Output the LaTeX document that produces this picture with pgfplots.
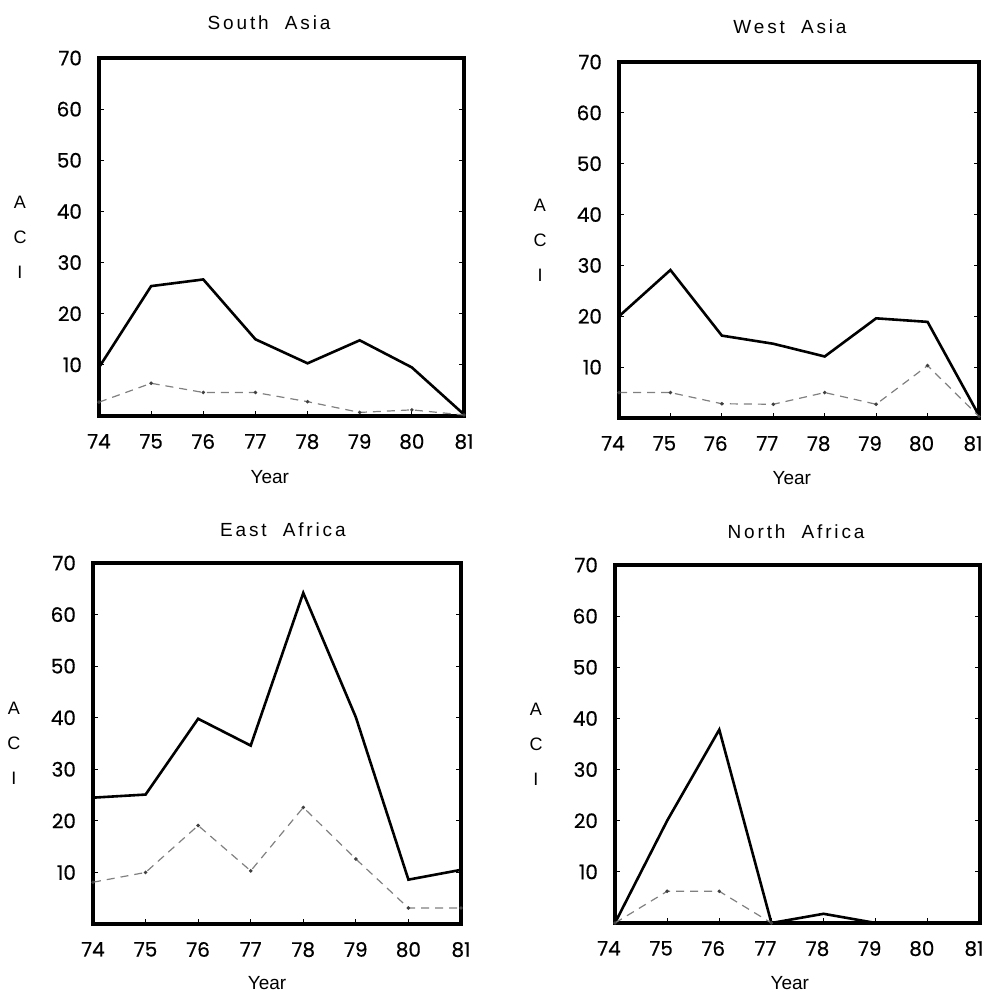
\documentclass[border=0pt]{standalone}
\usepackage{fontspec}
\setmainfont{Liberation Sans}
\newfontfamily\tickfont[FakeBold=0.5]{Poppins}
\newfontfamily\titlefont[LetterSpace=15]{Liberation Sans}
\usepackage{pgfplots}
\pgfplotsset{compat=1.18}

\pgfplotsset{
  panel/.style={
    scale only axis, anchor=south west, clip=false,
    xmin=74, xmax=81, ymin=0, ymax=70,
    xtick={74,75,...,81}, ytick={10,20,...,70},
    xtick pos=lower, ytick pos=both, yticklabel pos=left,
    tick align=inside, major tick length=2.5pt,
    tick style={line width=0.6pt, black},
    axis line style={line width=1.8pt, line join=miter},
    /pgf/number format/assume math mode=true,
    ticklabel style={font=\tickfont\fontsize{10}{11}\selectfont},
    xticklabel style={yshift=-5.5pt},
    yticklabel style={xshift=-5pt},
    xlabel={Year},
    xlabel style={anchor=center, font=\fontsize{9.5}{11}\selectfont},
    ylabel={A\\C\\I},
    ylabel style={rotate=-90, align=center, anchor=center,
      at={(axis description cs:0,0.5)}, xshift=-39.5pt,
      font=\fontsize{9}{17.5}\selectfont},
    title style={anchor=center, font=\titlefont\fontsize{9.5}{11}\selectfont},
  },
  main/.style={black, line width=1.3pt, no markers},
  sec/.style={draw=black!50, line width=0.6pt, dash pattern=on 4pt off 3pt,
    mark=*, mark size=0.55pt, mark options={solid, fill=black!75, draw=black!75}},
}

\begin{document}
\begin{tikzpicture}
\useasboundingbox (0,0) rectangle (493pt,496.5pt);

% South Asia
\begin{axis}[panel, at={(49.5pt,288.5pt)}, width=182.5pt, height=179pt,
  title={South\hspace{4pt} Asia},
  title style={at={(axis description cs:0.466,1)}, yshift=11.5pt},
  xlabel style={at={(axis description cs:0.468,0)}, yshift=-30.5pt}]
\addplot[main] coordinates {(74,9.5)(75,25.4)(76,26.7)(77,15)(78,10.3)(79,14.8)(80,9.5)(81,0.3)};
\addplot[sec] coordinates {(74,2.7)(75,6.4)(76,4.6)(77,4.6)(78,2.8)(79,0.7)(80,1.2)(81,0.2)};
\end{axis}

% West Asia
\begin{axis}[panel, at={(309.5pt,287.5pt)}, width=180pt, height=178pt,
  title={West\hspace{4pt} Asia},
  title style={at={(axis description cs:0.475,1)}, yshift=11.5pt},
  xticklabel style={xshift=-3pt},
  xlabel style={at={(axis description cs:0.48,0)}, yshift=-30pt}]
\addplot[main] coordinates {(74,20)(75,29.1)(76,16.2)(77,14.6)(78,12.1)(79,19.6)(80,18.9)(81,0.5)};
\addplot[sec] coordinates {(74,5)(75,5)(76,2.8)(77,2.7)(78,5)(79,2.7)(80,10.3)(81,0.3)};
\end{axis}

% East Africa
\begin{axis}[panel, at={(46.5pt,34.5pt)}, width=184pt, height=180.5pt,
  title={East\hspace{4pt} Africa},
  title style={at={(axis description cs:0.516,1)}, yshift=10.5pt},
  xlabel style={at={(axis description cs:0.473,0)}, yshift=-29.5pt}]
\addplot[main] coordinates {(74,24.5)(75,25.1)(76,39.8)(77,34.6)(78,64.2)(79,40.1)(80,8.6)(81,10.5)};
\addplot[sec] coordinates {(74,8.1)(75,10)(76,19.1)(77,10.3)(78,22.6)(79,12.6)(80,3.1)(81,3.1)};
\end{axis}

% North Africa
\begin{axis}[panel, at={(307.5pt,35pt)}, width=182.5pt, height=179pt,
  title={North\hspace{4pt} Africa},
  title style={at={(axis description cs:0.496,1)}, yshift=10.5pt},
  xticklabel style={xshift=-3pt},
  xlabel style={at={(axis description cs:0.479,0)}, yshift=-30pt}]
\addplot[main] coordinates {(74,0)(75,20)(76,37.8)(77,0)(78,1.8)(79,0)(80,0)(81,0)};
\addplot[sec] coordinates {(74,0)(75,6.2)(76,6.2)(77,0)};
\end{axis}
\end{tikzpicture}
\end{document}
